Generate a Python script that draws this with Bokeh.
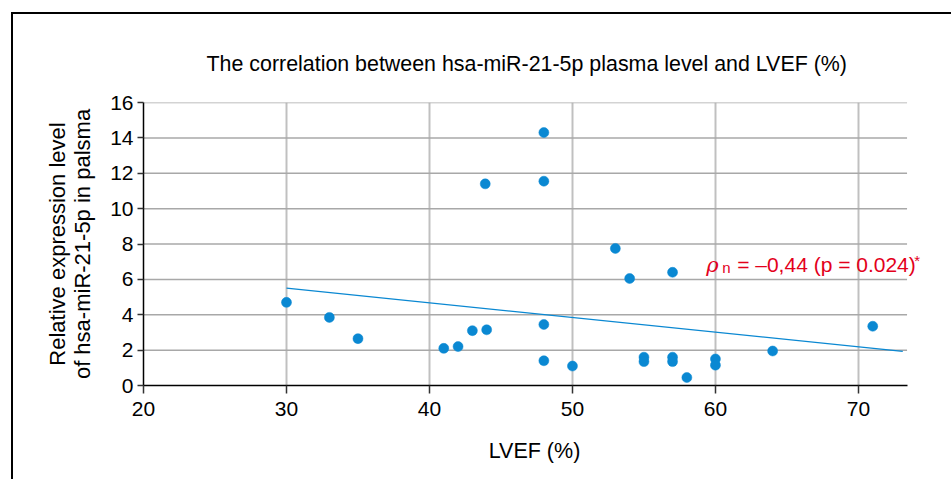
from bokeh.plotting import figure
from bokeh.models import Label, Range1d, FixedTicker, Title
from bokeh.embed import file_html
from bokeh.resources import INLINE

# Data
lvef = [30, 33, 35, 41, 42, 43, 44, 43.9, 48, 48, 48, 48, 50, 53, 54,
        55, 55, 57, 57, 57, 58, 60, 60, 64, 71]
mir21 = [4.7, 3.85, 2.65, 2.1, 2.2, 3.1, 3.15, 11.4, 14.3, 11.55, 3.45, 1.4, 1.1, 7.75, 6.05,
         1.6, 1.35, 1.6, 1.35, 6.4, 0.45, 1.5, 1.15, 1.95, 3.35]
trend_x = [30, 73.1]
trend_y = [5.5, 1.93]
x_ticks = [20, 30, 40, 50, 60, 70]
y_ticks = [0, 2, 4, 6, 8, 10, 12, 14, 16]
x_axis_end = 73.4

title_text = "The correlation between hsa-miR-21-5p plasma level and LVEF (%)"
y_label = "Relative expression level\nof hsa-miR-21-5p in palsma"
x_label = "LVEF (%)"
corr_text = "= –0,44 (p = 0.024)"

FONT = "Liberation Sans"
BLUE = "#0a88d2"
RED = "#e3001b"

p = figure(width=951, height=479, output_backend="svg", toolbar_location=None,
           x_range=Range1d(20, 74.69), y_range=Range1d(0, 16),
           min_border_left=143, min_border_right=26, min_border_top=102, min_border_bottom=94)
p.title = Title(text=title_text, align="left", text_font=FONT, text_font_size="21.4px",
                text_font_style="normal", text_color="black", standoff=54, offset=63)

p.background_fill_color = "white"
p.border_fill_color = None
p.outline_line_color = None
# outer frame of the figure panel: left and top edges, the rest runs off the picture
p.styles = {
    "background-color": "white",
    "background-image": "linear-gradient(#000, #000), linear-gradient(#000, #000)",
    "background-size": "2px 100%, 100% 2px",
    "background-position": "11px 12px, 11px 12px",
    "background-repeat": "no-repeat",
}

for ax in (p.xaxis[0], p.yaxis[0]):
    ax.major_label_text_font = FONT
    ax.major_label_text_font_size = "21px"
    ax.major_label_text_color = "black"
    ax.axis_label_text_font = FONT
    ax.axis_label_text_font_style = "normal"
    ax.axis_label_text_color = "black"
    ax.axis_line_color = "black"
    ax.axis_line_width = 1.5
    ax.major_tick_line_color = "#333333"
    ax.major_tick_line_width = 1.5
    ax.major_tick_in = 0
    ax.minor_tick_line_color = None

p.xaxis.ticker = FixedTicker(ticks=x_ticks)
p.yaxis.ticker = FixedTicker(ticks=y_ticks)
p.xaxis.bounds = (x_ticks[0], x_axis_end)
p.xaxis.major_tick_out = 8
p.yaxis.major_tick_out = 6
p.xaxis.major_label_standoff = 8
p.yaxis.major_label_standoff = 4
p.xaxis.axis_label = x_label
p.yaxis.axis_label = y_label
p.xaxis.axis_label_text_font_size = "21.5px"
p.yaxis.axis_label_text_font_size = "22px"
p.yaxis.axis_label_text_line_height = 1.0
p.xaxis.axis_label_standoff = 20
p.yaxis.axis_label_standoff = 12

p.xgrid.ticker = FixedTicker(ticks=x_ticks[1:])
p.xgrid.grid_line_color = "#c0c0c0"
p.xgrid.grid_line_width = 2
p.ygrid.grid_line_color = None
# horizontal grid lines stop at the end of the x axis
p.segment(x0=[x_ticks[0]] * len(y_ticks[1:]), x1=[x_axis_end] * len(y_ticks[1:]),
          y0=y_ticks[1:], y1=y_ticks[1:], line_color="#a8a8a8", line_width=1.5)

p.line(trend_x, trend_y, line_color=BLUE, line_width=1.3)
p.scatter(lvef, mir21, size=10, fill_color=BLUE, line_color=BLUE, line_width=0.5)

# correlation annotation
ax0, ay0 = 59.35, 6.82
p.add_layout(Label(x=ax0, y=ay0, text="ρ", text_font="DejaVu Serif", text_font_style="italic",
                   text_font_size="21px", text_color=RED, text_baseline="alphabetic"))
p.add_layout(Label(x=ax0, y=ay0, x_offset=16, y_offset=-3, text="n", text_font=FONT,
                   text_font_size="15px", text_color=RED, text_baseline="alphabetic"))
p.add_layout(Label(x=ax0, y=ay0, x_offset=31, text=corr_text, text_font=FONT,
                   text_font_size="21px", text_color=RED, text_baseline="alphabetic"))
p.add_layout(Label(x=ax0, y=ay0, x_offset=208, y_offset=4, text="*", text_font=FONT,
                   text_font_size="15px", text_color=RED, text_baseline="alphabetic"))

open("out.html", "w").write(file_html(p, INLINE))
